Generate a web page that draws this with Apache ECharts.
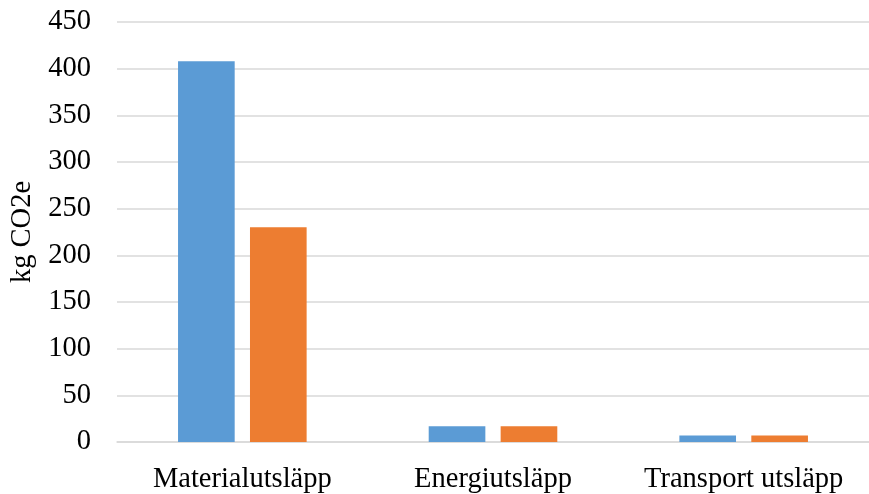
<!DOCTYPE html>
<html>
<head>
<meta charset="utf-8">
<style>
  html, body { margin: 0; padding: 0; background: #ffffff; }
  #chart { width: 869px; height: 494px; }
</style>
<script src="https://cdn.jsdelivr.net/npm/echarts@6/dist/echarts.min.js"></script>
</head>
<body>
<div id="chart"></div>
<script>
// Emission categories and the two compared values per category (kg CO2e)
const categories = ['Materialutsläpp', 'Energiutsläpp', 'Transport utsläpp'];
const seriesA = [408, 17, 7];
const seriesB = [230, 17, 7];
const yTicks = { min: 0, max: 450, interval: 50 };
const yAxisTitle = 'kg CO2e';

const font = '"Liberation Serif", "Times New Roman", serif';
const chart = echarts.init(document.getElementById('chart'), null, { renderer: 'canvas' });

chart.setOption({
  animation: false,
  backgroundColor: '#ffffff',
  grid: { left: 117, right: -6, top: 22, bottom: 50, containLabel: false },
  xAxis: {
    type: 'category',
    data: categories,
    axisLine: { show: true, lineStyle: { color: '#d9d9d9', width: 1.5 } },
    axisTick: { show: false },
    axisLabel: {
      color: '#000', fontFamily: font, fontSize: 28.5, margin: 23,
      interval: 0, hideOverlap: false
    }
  },
  yAxis: {
    type: 'value',
    min: yTicks.min,
    max: yTicks.max,
    interval: yTicks.interval,
    name: yAxisTitle,
    nameLocation: 'middle',
    nameGap: 74,
    nameTextStyle: { color: '#000', fontFamily: font, fontSize: 28.5 },
    axisLine: { show: false },
    axisTick: { show: false },
    axisLabel: { color: '#000', fontFamily: font, fontSize: 28.5, margin: 26 },
    splitLine: { lineStyle: { color: '#d9d9d9', width: 1.5 } }
  },
  series: [
    {
      type: 'bar',
      data: seriesA,
      barWidth: '22.6%',
      barGap: '27%',
      itemStyle: { color: '#5b9bd5' }
    },
    {
      type: 'bar',
      data: seriesB,
      barWidth: '22.6%',
      barGap: '27%',
      itemStyle: { color: '#ed7d31' }
    }
  ]
});
</script>
</body>
</html>
